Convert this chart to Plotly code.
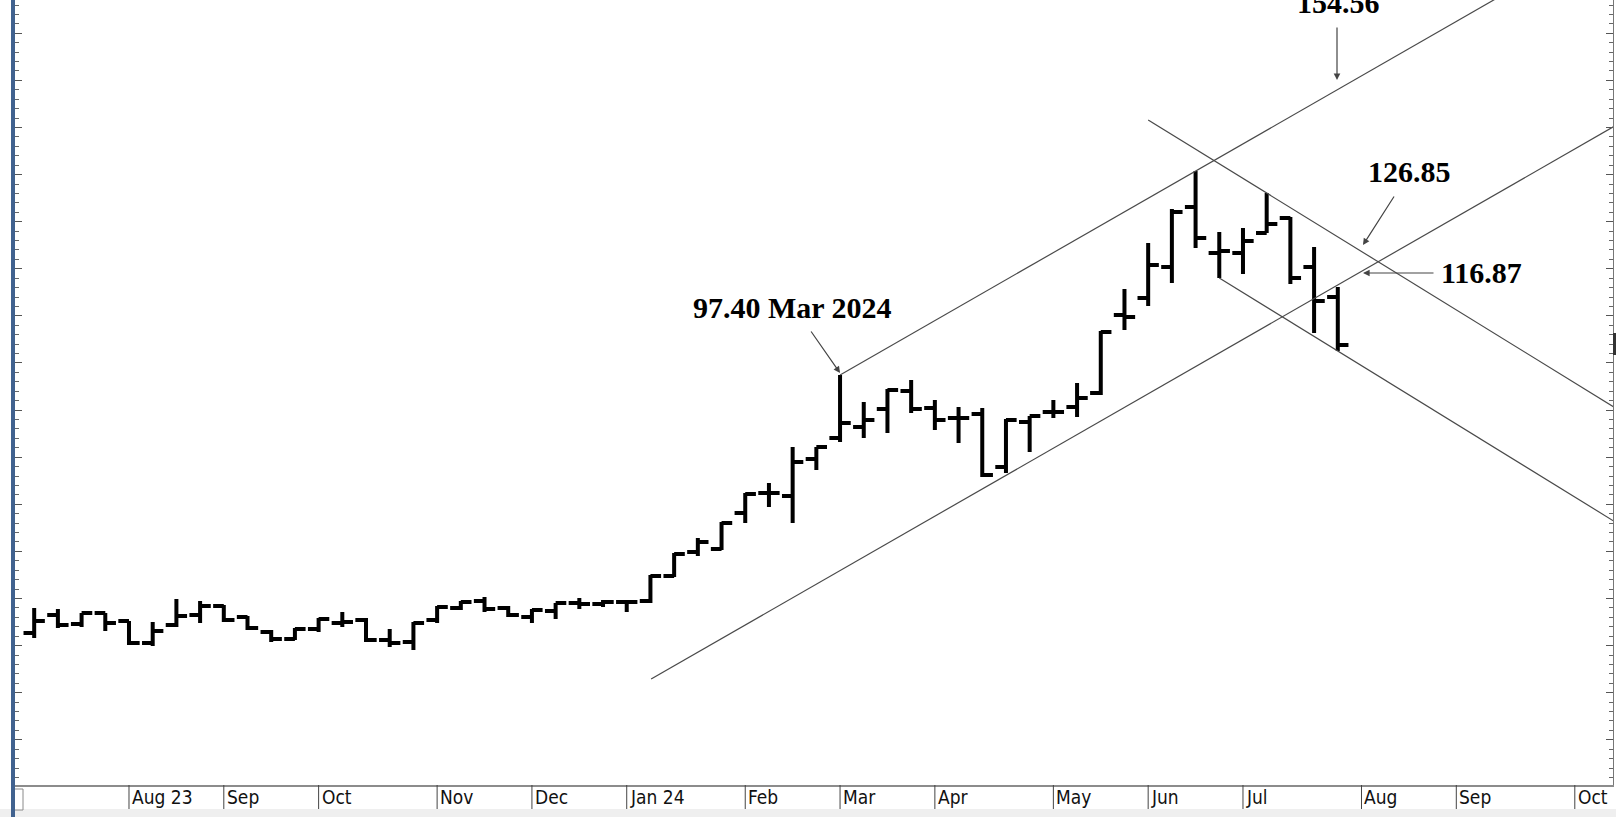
import pandas as pd
import plotly.graph_objects as go

# ---------------- data (weekly OHLC) ----------------
week_start = "2023-07-10"
n_weeks = 56
dates = pd.date_range(week_start, periods=n_weeks, freq="7D")

opens = [42.68, 46.50, 44.59, 46.92, 45.22, 40.55, 44.37, 46.50, 48.41, 46.07,
         42.89, 41.40, 43.53, 44.80, 45.44, 41.19, 40.76, 45.44, 47.98, 49.47,
         47.98, 46.07, 47.35, 49.05, 48.83, 49.26, 49.47, 54.78, 59.87, 60.51,
         68.15, 72.40, 71.76, 79.62, 84.08, 86.41, 90.23, 94.06, 90.45, 88.32,
         89.17, 77.92, 87.47, 89.60, 90.66, 93.63, 110.19, 113.80, 120.38, 133.12,
         123.35, 123.35, 127.60, 130.78, 120.38, 114.01]
highs = [47.98, 47.77, 46.92, 46.92, 45.22, 45.01, 49.89, 49.47, 48.62, 46.29,
         43.31, 43.74, 45.86, 47.13, 45.86, 43.53, 45.01, 48.41, 49.47, 50.32,
         48.41, 47.77, 49.05, 50.11, 49.68, 49.68, 54.99, 59.66, 62.85, 66.24,
         72.40, 74.52, 82.17, 82.17, 97.45, 91.72, 94.48, 96.39, 92.14, 90.66,
         90.45, 88.11, 88.75, 92.14, 95.75, 106.79, 115.71, 125.48, 132.70, 140.76,
         127.81, 128.66, 136.09, 131.00, 124.63, 116.14]
lows = [41.61, 43.74, 43.95, 43.10, 40.13, 39.92, 43.95, 44.80, 45.01, 43.31,
        40.76, 41.19, 42.89, 43.95, 40.76, 39.70, 39.07, 44.80, 47.56, 47.13,
        46.07, 44.80, 45.65, 47.77, 48.20, 47.13, 49.05, 54.57, 59.02, 60.30,
        66.03, 69.43, 66.03, 77.28, 83.23, 84.08, 85.14, 89.38, 85.78, 83.02,
        75.80, 76.65, 81.10, 88.32, 88.53, 93.21, 107.01, 112.10, 116.98, 124.42,
        118.05, 118.90, 127.60, 116.77, 106.37, 102.55]
closes = [45.22, 44.37, 46.92, 44.80, 40.55, 43.10, 46.29, 48.41, 45.44, 43.74,
          41.40, 43.53, 45.65, 45.01, 41.19, 40.55, 44.80, 48.20, 49.26, 47.77,
          46.50, 47.56, 49.05, 48.83, 49.26, 49.26, 54.78, 59.45, 62.00, 66.03,
          72.19, 72.40, 78.98, 82.17, 87.26, 87.90, 94.27, 90.23, 87.90, 88.32,
          76.22, 87.90, 88.75, 89.60, 92.57, 106.58, 109.77, 120.81, 132.06, 126.54,
          123.78, 125.90, 129.51, 118.05, 113.16, 103.82]

month_dates = ["2023-08-07", "2023-09-04", "2023-10-02", "2023-11-06", "2023-12-04",
               "2024-01-01", "2024-02-05", "2024-03-04", "2024-04-01", "2024-05-06",
               "2024-06-03", "2024-07-01", "2024-08-05", "2024-09-02", "2024-10-07"]
month_labels = ["Aug 23", "Sep", "Oct", "Nov", "Dec", "Jan 24", "Feb", "Mar", "Apr",
                "May", "Jun", "Jul", "Aug", "Sep", "Oct"]

# trend / channel lines (start, end) in date / price
upper_channel_x = ["2024-03-04", "2024-10-19"]
upper_channel_y = [97.45, 191.9]
lower_channel_x = ["2024-01-08 05:00", "2024-10-19"]
lower_channel_y = [32.91, 150.4]
down_upper_x = ["2024-06-03", "2024-10-19"]
down_upper_y = [151.59, 90.45]
down_lower_x = ["2024-06-24", "2024-10-19"]
down_lower_y = [118.05, 66.22]

x_range = ["2023-07-04 08:00", "2024-10-18 06:43"]
y_range = [10.40, 177.07]

# ---------------- figure ----------------
fig = go.Figure()

line_col = "#4a4a4a"
for xs, ys in [(upper_channel_x, upper_channel_y), (lower_channel_x, lower_channel_y),
               (down_upper_x, down_upper_y), (down_lower_x, down_lower_y)]:
    fig.add_trace(go.Scatter(x=xs, y=ys, mode="lines",
                             line=dict(color=line_col, width=1.2),
                             hoverinfo="skip", showlegend=False))

fig.add_trace(go.Ohlc(x=dates, open=opens, high=highs, low=lows, close=closes,
                      increasing=dict(line=dict(color="black", width=4)),
                      decreasing=dict(line=dict(color="black", width=4)),
                      tickwidth=0.45, showlegend=False, hoverinfo="skip"))

PH = 785.0  # plot height in px
PW = 1598.0

shapes = []
# bottom light strip
shapes.append(dict(type="rect", xref="paper", yref="paper", x0=-0.02, x1=1.02,
                   y0=-32 / PH, y1=-24 / PH, fillcolor="#efefef", line=dict(width=0),
                   layer="below"))
# small box at lower-left
shapes.append(dict(type="rect", xref="paper", yref="paper", x0=-3 / PW, x1=8 / PW,
                   y0=-25 / PH, y1=-4 / PH, fillcolor="white",
                   line=dict(color="#8a8a8a", width=1)))
# month separators
for d in month_dates:
    shapes.append(dict(type="line", xref="x", yref="paper", x0=d, x1=d,
                       y0=0, y1=-24 / PH, line=dict(color="#444", width=1)))
# blue left border
shapes.append(dict(type="rect", xref="paper", yref="paper", x0=-4 / PW, x1=0,
                   y0=-32 / PH, y1=1, fillcolor="#41628f", line=dict(width=0)))
# right edge marker
shapes.append(dict(type="rect", xref="paper", yref="paper", x0=1.0, x1=1.0 + 3 / PW,
                   y0=1 - 355 / PH, y1=1 - 333 / PH, fillcolor="#333", line=dict(width=0)))

annotations = []
for d, lab in zip(month_dates, month_labels):
    annotations.append(dict(x=d, y=-12 / PH, xref="x", yref="paper", text=lab,
                            showarrow=False, xanchor="left", yanchor="middle", xshift=1,
                            font=dict(family="DejaVu Sans Condensed, Liberation Sans Narrow, sans-serif",
                                      size=19, color="#111")))

tfont = dict(family="Liberation Serif, Times New Roman, serif", size=30, color="black")
arrow = dict(showarrow=True, arrowhead=2, arrowsize=1.1, arrowwidth=1.2, arrowcolor="#444")

def px_x(x):
    return (x - 15) / PW

def px_y(y):
    return 1 - y / PH

# texts
annotations += [
    dict(x=px_x(792), y=px_y(307), xref="paper", yref="paper", text="<b>97.40 Mar 2024</b>",
         showarrow=False, font=tfont, xanchor="center", yanchor="middle"),
    dict(x=px_x(1338), y=px_y(2), xref="paper", yref="paper", text="<b>154.56</b>",
         showarrow=False, font=tfont, xanchor="center", yanchor="middle"),
    dict(x=px_x(1409), y=px_y(172), xref="paper", yref="paper", text="<b>126.85</b>",
         showarrow=False, font=tfont, xanchor="center", yanchor="middle"),
    dict(x=px_x(1481), y=px_y(273), xref="paper", yref="paper", text="<b>116.87</b>",
         showarrow=False, font=tfont, xanchor="center", yanchor="middle"),
]
# arrows
annotations += [
    dict(x="2024-03-04", y=97.87, xref="x", yref="y", text="", ax=-30, ay=-43, **arrow),
    dict(x=px_x(1337), y=px_y(80), xref="paper", yref="paper", text="", ax=0, ay=-54, **arrow),
    dict(x=px_x(1363), y=px_y(245), xref="paper", yref="paper", text="", ax=32, ay=-50, **arrow),
    dict(x=px_x(1363), y=px_y(273), xref="paper", yref="paper", text="", ax=72, ay=0, **arrow),
]

fig.update_layout(
    width=1616, height=817,
    margin=dict(l=15, r=3, t=0, b=32),
    paper_bgcolor="white", plot_bgcolor="white",
    showlegend=False,
    shapes=shapes, annotations=annotations,
    xaxis=dict(type="date", range=x_range, showticklabels=False, ticks="",
               showgrid=False, zeroline=False, showline=True, linecolor="#8c8c8c",
               linewidth=2, rangeslider=dict(visible=False), fixedrange=True),
    yaxis=dict(range=y_range, tickmode="linear", tick0=0, dtick=10, ticks="inside",
               ticklen=7, tickwidth=1, tickcolor="#555", showticklabels=False,
               showgrid=False, zeroline=False, showline=True, linecolor="#777",
               linewidth=1, mirror="ticks",
               minor=dict(dtick=2, ticks="inside", ticklen=4, tickwidth=1,
                          tickcolor="#666", showgrid=False)),
)

fig.write_html("out.html",
               config={"displayModeBar": False},
               post_script="document.body.style.margin='0px';"
                           "document.body.style.padding='0px';"
                           "document.body.style.overflow='hidden';")
